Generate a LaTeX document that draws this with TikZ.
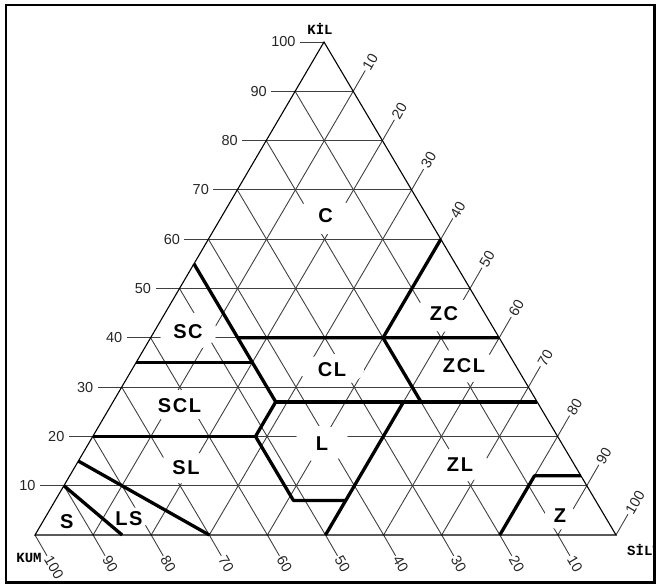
\documentclass[tikz,border=0pt]{standalone}
\usepackage{fontspec}
\usetikzlibrary{shapes.geometric}
\newfontfamily\clsfont[LetterSpace=8]{Liberation Sans}
\newfontfamily\numfont{Liberation Sans}
\newfontfamily\axfont{Liberation Mono}

\begin{document}
\begin{tikzpicture}[x=1pt, y=1pt,
			grid/.style={draw=black!75, line width=0.9pt},
			side/.style={draw=black, line width=1.1pt},
			bound/.style={draw=black, line width=3.3pt, line join=round},
			num/.style={font=\numfont\fontsize{14.5}{14.5}\selectfont, text=black!85, inner sep=1.5pt},
			axis/.style={font=\axfont\bfseries\fontsize{14}{14}\selectfont, inner sep=0pt},
			cls/.style={ellipse, fill=white, inner sep=0pt,
				font=\clsfont\bfseries\fontsize{20}{20}\selectfont}
			]
			\useasboundingbox (0,0) rectangle (656,584);
			
			% corners of the triangle
			\coordinate (kum) at (35,49);
			\coordinate (silt) at (616,49);
			\coordinate (kil) at (324,542);
			
			% grid every 10 percent, with ticks and numbers
			\foreach \v in {10,20,...,100}{
				\pgfmathsetmacro\a{\v/100}
				\pgfmathsetmacro\b{1-\a}
				\draw[grid] (barycentric cs:kum=0,silt=\b,kil=\a) -- (barycentric cs:kum=\b,silt=0,kil=\a)
					-- ++(-24,0) node[num, anchor=east, inner sep=4pt] {\v};
				\draw[grid] (barycentric cs:kum=\b,silt=\a,kil=0) -- (barycentric cs:kum=0,silt=\a,kil=\b)
					-- ++(60:24) node[num, anchor=west, rotate=60] {\v};
				\draw[grid] (barycentric cs:kum=\a,silt=0,kil=\b) -- (barycentric cs:kum=\a,silt=\b,kil=0)
					-- ++(-60:24) node[num, anchor=west, rotate=-60] {\v};
			}
			
			% class names on white patches
			\node[cls, minimum width=60pt, minimum height=36pt] (c) at (325.5,368) {C};
			\node[cls, minimum width=58pt, minimum height=38pt] (sc) at (188,252.5) {SC};
			\node[cls, minimum width=64pt, minimum height=32pt] (cl) at (332,214) {CL};
			\node[cls, minimum width=66pt, minimum height=32pt] (scl) at (179.5,178) {SCL};
			\node[cls, minimum width=58pt, minimum height=32pt] (sl) at (186,116.5) {SL};
			\node[cls, minimum width=56pt, minimum height=36pt] (l) at (322,140) {L};
			\node[cls, minimum width=60pt, minimum height=36pt] (zc) at (444,270.3) {ZC};
			\node[cls, minimum width=66pt, minimum height=34pt] (zcl) at (464,218.5) {ZCL};
			\node[cls, minimum width=58pt, minimum height=34pt] (zl) at (460,119) {ZL};
			\node[cls, minimum width=22pt, minimum height=22pt] (s) at (66.7,62) {S};
			\node[cls, minimum width=36pt, minimum height=24pt] (ls) at (129,65) {LS};
			\node[cls, minimum width=30pt, minimum height=28pt] (z) at (560,68.5) {Z};
			
			% points of the class borders (kum, silt, kil)
			\coordinate (s90k10) at (barycentric cs:kum=.90,silt=0,kil=.10);
			\coordinate (s85z15) at (barycentric cs:kum=.85,silt=.15,kil=0);
			\coordinate (s85k15) at (barycentric cs:kum=.85,silt=0,kil=.15);
			\coordinate (s70z30) at (barycentric cs:kum=.70,silt=.30,kil=0);
			\coordinate (s80k20) at (barycentric cs:kum=.80,silt=0,kil=.20);
			\coordinate (s52k20) at (barycentric cs:kum=.52,silt=.28,kil=.20);
			\coordinate (s65k35) at (barycentric cs:kum=.65,silt=0,kil=.35);
			\coordinate (s45k35) at (barycentric cs:kum=.45,silt=.20,kil=.35);
			\coordinate (s45k55) at (barycentric cs:kum=.45,silt=0,kil=.55);
			\coordinate (s45k27) at (barycentric cs:kum=.45,silt=.28,kil=.27);
			\coordinate (s52k7) at (barycentric cs:kum=.52,silt=.41,kil=.07);
			\coordinate (z50k7) at (barycentric cs:kum=.43,silt=.50,kil=.07);
			\coordinate (z50k0) at (barycentric cs:kum=.50,silt=.50,kil=0);
			\coordinate (z50k27) at (barycentric cs:kum=.23,silt=.50,kil=.27);
			\coordinate (z73k27) at (barycentric cs:kum=0,silt=.73,kil=.27);
			\coordinate (s45k40) at (barycentric cs:kum=.45,silt=.15,kil=.40);
			\coordinate (z60k40) at (barycentric cs:kum=0,silt=.60,kil=.40);
			\coordinate (z40k60) at (barycentric cs:kum=0,silt=.40,kil=.60);
			\coordinate (s20k40) at (barycentric cs:kum=.20,silt=.40,kil=.40);
			\coordinate (s20k27) at (barycentric cs:kum=.20,silt=.53,kil=.27);
			\coordinate (z80k0) at (barycentric cs:kum=.20,silt=.80,kil=0);
			\coordinate (z80k12) at (barycentric cs:kum=.08,silt=.80,kil=.12);
			\coordinate (z88k12) at (barycentric cs:kum=0,silt=.88,kil=.12);
			
			% outline of the triangle
			\draw[side] (kum) -- (silt) -- (kil) -- cycle;
			
			% class borders
			\draw[bound] (s90k10) -- (s85z15);
			\draw[bound] (s85k15) -- (s70z30);
			\draw[bound] (s80k20) -- (s52k20);
			\draw[bound] (s65k35) -- (s45k35);
			\draw[bound] (s45k55) -- (s45k27) -- (s52k20) -- (s52k7) -- (z50k7);
			\draw[bound] (z50k0) -- (z50k27);
			\draw[bound] (s45k27) -- (z73k27);
			\draw[bound] (s45k40) -- (z60k40);
			\draw[bound] (z40k60) -- (s20k40) -- (s20k27);
			\draw[bound] (z80k0) -- (z80k12) -- (z88k12);
			
			% axis names
			\node[axis] (kiltitle) at (320,555.5) {KİL};
			\node[axis] (kumtitle) at (29,26) {KUM};
			\node[axis, anchor=west] (silttitle) at (627,34) {SİLT};
			
			% frame
			\draw[line width=2.5pt] (6,1.5) rectangle (654.5,579);
			
		\end{tikzpicture}
\end{document}
